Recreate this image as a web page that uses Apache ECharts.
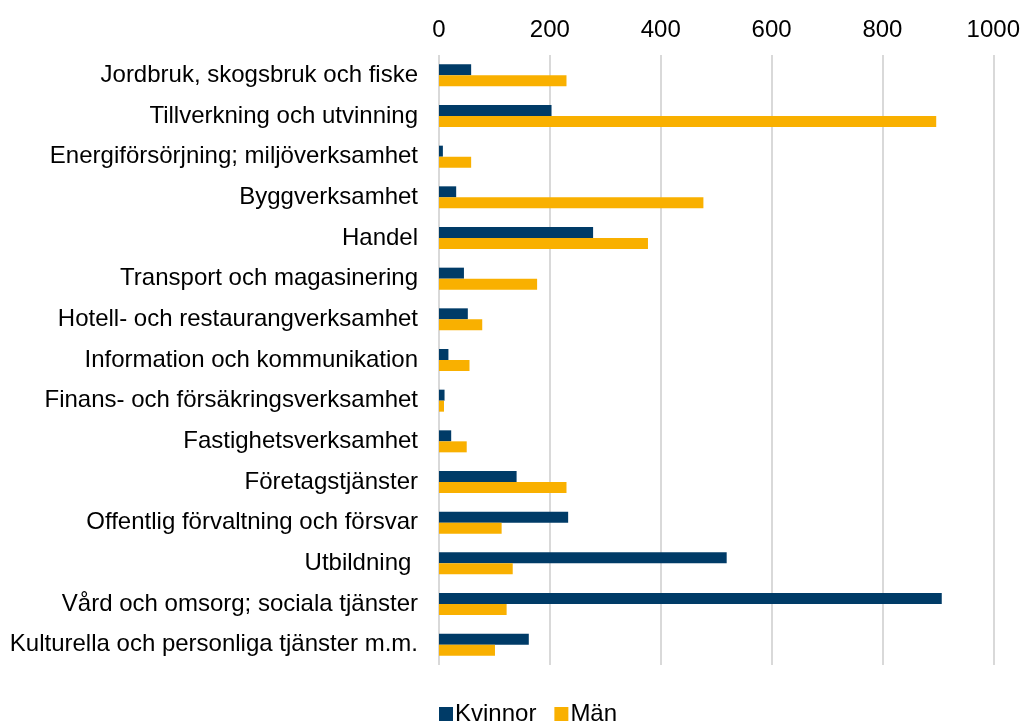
<!DOCTYPE html>
<html>
<head>
<meta charset="utf-8">
<script src="https://cdn.jsdelivr.net/npm/echarts@6/dist/echarts.min.js"></script>
<style>html,body{margin:0;padding:0;background:#fff}#c{width:1023px;height:725px}</style>
</head>
<body>
<div id="c"></div>
<script>
const categories = [
  "Jordbruk, skogsbruk och fiske",
  "Tillverkning och utvinning",
  "Energiförsörjning; miljöverksamhet",
  "Byggverksamhet",
  "Handel",
  "Transport och magasinering",
  "Hotell- och restaurangverksamhet",
  "Information och kommunikation",
  "Finans- och försäkringsverksamhet",
  "Fastighetsverksamhet",
  "Företagstjänster",
  "Offentlig förvaltning och försvar",
  "Utbildning ",
  "Vård och omsorg; sociala tjänster",
  "Kulturella och personliga tjänster m.m."
];
const kvinnor = [58, 203, 7, 31, 278, 45, 52, 17, 10, 22, 140, 233, 519, 907, 162];
const man = [230, 897, 58, 477, 377, 177, 78, 55, 9, 50, 230, 113, 133, 122, 101];
const seriesNames = ["Kvinnor", "Män"];

const chart = echarts.init(document.getElementById('c'));
const font = 'Liberation Sans, Arial, sans-serif';
chart.setOption({
  animation: false,
  grid: { left: 439, right: 27, top: 55, bottom: 60 },
  legend: {
    top: 697, left: 434,
    itemWidth: 14, itemHeight: 14, itemGap: 18,
    icon: 'rect',
    textStyle: { fontFamily: font, fontSize: 24, color: '#000', padding: [0,0,0,-3] },
    data: seriesNames
  },
  xAxis: {
    type: 'value', position: 'top', min: 0, max: 1000, interval: 200,
    axisLabel: { fontFamily: font, fontSize: 24, color: '#000', margin: 13, formatter: v => String(v) },
    axisLine: { show: false }, axisTick: { show: false },
    splitLine: { lineStyle: { color: '#d9d9d9', width: 2 } }
  },
  yAxis: {
    type: 'category', inverse: true, data: categories,
    axisLabel: { fontFamily: font, fontSize: 24, color: '#000', margin: 21 },
    axisLine: { show: false }, axisTick: { show: false }
  },
  series: [
    { name: seriesNames[0], type: 'bar', data: kvinnor, itemStyle: { color: '#003B67' },
      barWidth: 11, barGap: '0%' },
    { name: seriesNames[1], type: 'bar', data: man, itemStyle: { color: '#F9B000' },
      barWidth: 11, barGap: '0%' }
  ]
});
</script>
</body>
</html>
